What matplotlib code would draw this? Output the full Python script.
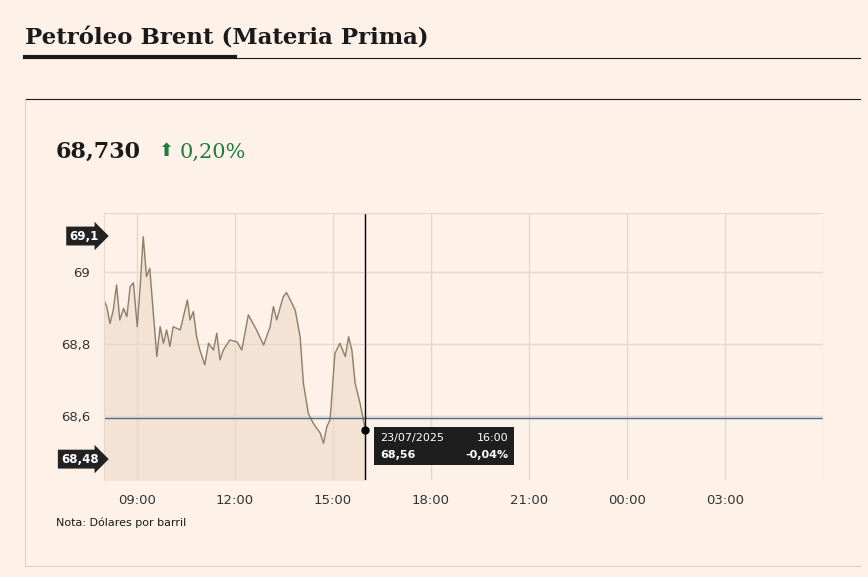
import matplotlib
matplotlib.use("Agg")
import matplotlib.pyplot as plt
import numpy as np

minutes = [0,5,11,17,23,29,36,42,48,54,61,66,72,78,84,91,97,103,109,115,121,127,140,153,158,164,170,176,185,192,201,207,213,219,231,244,253,265,280,293,305,311,317,329,335,342,351,360,366,375,384,397,403,409,415,424,433,443,449,455,461,470,480]
prices = [68.922,68.904,68.857,68.894,68.964,68.867,68.899,68.876,68.959,68.970,68.848,68.95,69.098,68.987,69.010,68.876,68.765,68.848,68.802,68.839,68.793,68.848,68.839,68.922,68.867,68.89,68.82,68.783,68.742,68.802,68.783,68.83,68.756,68.783,68.811,68.806,68.783,68.881,68.839,68.797,68.848,68.904,68.867,68.931,68.943,68.922,68.894,68.82,68.691,68.607,68.58,68.552,68.524,68.57,68.589,68.774,68.802,68.765,68.82,68.783,68.691,68.635,68.56]
tick_labels = ["09:00","12:00","15:00","18:00","21:00","00:00","03:00"]
ytick_vals = [68.6, 68.8, 69.0]
ytick_labels = ["68,6","68,8","69"]
prev_close = 68.594
last_price = "68,730"
change = "0,20%"

BG = "#fdf1e8"
W, H = 868, 577
fig = plt.figure(figsize=(W/100, H/100), dpi=100, facecolor=BG)

def fx(px): return px / W
def fy(py): return 1 - py / H

serif = "DejaVu Serif"
fig.text(fx(25), fy(38), "Petróleo Brent (Materia Prima)", fontsize=16.5, fontweight="bold",
         family=serif, va="center", ha="left", color="#1a1a1a")
fig.add_artist(plt.Line2D([fx(25), fx(235)], [fy(57), fy(57)], color="#1a1a1a", lw=3))
fig.add_artist(plt.Line2D([fx(235), fx(860)], [fy(58), fy(58)], color="#1a1a1a", lw=0.8))
fig.add_artist(plt.Line2D([fx(25), fx(860)], [fy(99), fy(99)], color="#1a1a1a", lw=0.8))
fig.add_artist(plt.Line2D([fx(25), fx(25)], [fy(99), fy(566)], color="#ddd0c4", lw=0.8))
fig.add_artist(plt.Line2D([fx(25), fx(860)], [fy(566), fy(566)], color="#ddd0c4", lw=0.8))

fig.text(fx(56), fy(152), last_price, fontsize=16, fontweight="bold", family=serif,
         va="center", ha="left", color="#1a1a1a")
fig.text(fx(159), fy(151), "\u2B06", fontsize=13, color="#1e7d3e", va="center", ha="left")
fig.text(fx(180), fy(152), change, fontsize=15, family=serif, color="#1e7d3e",
         va="center", ha="left")

x0, x1, y0, y1 = 104, 823, 213, 480
ax = fig.add_axes([fx(x0), fy(y1), (x1-x0)/W, (y1-y0)/H])
ax.set_facecolor(BG)
t = np.array(minutes) / 60 + 8
ax.set_xlim(8, 30)
ax.set_ylim(68.422, 69.164)
ax.plot(t, prices, color="#8c7f6b", lw=1)
ax.fill_between(t, prices, 68.422, color="#f3e3d5")
ax.axhline(prev_close, color="#4a6a8a", lw=1)
ax.axvline(16, color="black", lw=1)
ax.plot([t[-1]], [prices[-1]], "o", color="black", ms=5)
ax.set_xticks([9,12,15,18,21,24,27])
ax.set_xticklabels(tick_labels)
ax.set_yticks(ytick_vals)
ax.set_yticklabels(ytick_labels)
ax.grid(True, color="#e6d8cc", lw=1)
ax.axvline(30, color="#e6d8cc", lw=1)
ax.axhline(69.164, color="#e6d8cc", lw=1)
for s in ax.spines.values():
    s.set_visible(False)
ax.spines["left"].set_visible(True)
ax.spines["left"].set_color("#e6d8cc")
ax.tick_params(length=0, labelsize=9.5, colors="#333333", pad=10)

def tag(y, txt):
    ax.annotate(txt, xy=(8, y), xycoords="data", xytext=(-4, 0), textcoords="offset points",
                ha="right", va="center", fontsize=8.5, fontweight="bold", color="white",
                bbox=dict(boxstyle="rarrow,pad=0.25", fc="#222222", ec="none"))
tag(69.1, "69,1")
tag(68.48, "68,48")

bx, by = fx(374), fy(465)
fig.patches.append(plt.Rectangle((bx, by), 140/W, 38/H, transform=fig.transFigure,
                                 fc="#1e1e1e", ec="none"))
fig.text(fx(380), fy(438), "23/07/2025", fontsize=8, color="white", va="center")
fig.text(fx(508), fy(438), "16:00", fontsize=8, color="white", va="center", ha="right")
fig.text(fx(380), fy(455), "68,56", fontsize=8, color="white", fontweight="bold", va="center")
fig.text(fx(508), fy(455), "-0,04%", fontsize=8, color="white", fontweight="bold", va="center", ha="right")

fig.text(fx(56), fy(523), "Nota: Dólares por barril", fontsize=8, color="#1a1a1a", va="center")

fig.savefig("out.png", dpi=100, facecolor=BG)
